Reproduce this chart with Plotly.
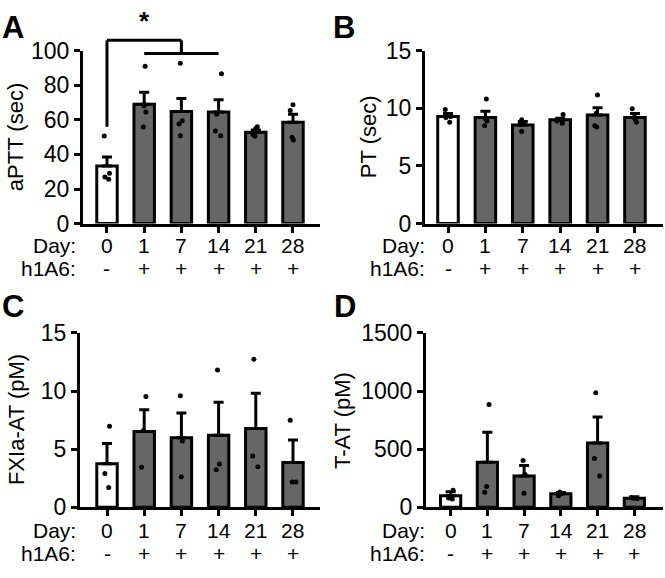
import plotly.graph_objects as go

# ---------------- data ----------------
days = ["0", "1", "7", "14", "21", "28"]
h1a6 = ["-", "+", "+", "+", "+", "+"]

aptt_mean = [33.3, 69.0, 64.8, 64.6, 52.9, 58.6]
aptt_sem = [5.2, 7.0, 7.6, 7.0, 1.2, 4.6]
aptt_pts = [[50.6, 29.1, 26.9, 25.6],
            [91.0, 68.0, 64.5, 55.8],
            [92.8, 59.5, 57.6, 50.8],
            [86.7, 63.2, 53.6, 50.8],
            [56.0, 55.0, 53.5, 51.5, 50.5],
            [68.7, 65.4, 49.9, 48.4]]

pt_mean = [9.3, 9.2, 8.56, 9.0, 9.42, 9.2]
pt_sem = [0.25, 0.55, 0.3, 0.14, 0.63, 0.35]
pt_pts = [[9.9, 9.3, 9.2, 8.8],
          [10.8, 9.1, 8.9, 8.5],
          [9.0, 8.7, 8.6, 7.98],
          [9.47, 9.0, 8.9, 8.7],
          [11.16, 9.6, 8.48, 8.37],
          [9.97, 9.2, 9.0, 8.8]]

fxia_mean = [3.75, 6.52, 5.97, 6.19, 6.77, 3.84]
fxia_sem = [1.73, 1.86, 2.13, 2.85, 3.03, 1.94]
fxia_pts = [[6.96, 2.9, 1.7],
            [9.53, 6.6, 3.45],
            [9.59, 5.7, 2.63],
            [11.8, 3.73, 3.23],
            [12.74, 4.41, 3.48],
            [7.48, 2.16, 2.16]]

tat_mean = [98.5, 386, 268, 115, 553, 77]
tat_sem = [35, 260, 91, 11, 224, 13]
tat_pts = [[145, 80, 71],
           [884, 178, 129],
           [402, 282, 120],
           [131, 115, 98],
           [985, 419, 268],
           [82, 77, 72]]

panels = [
    dict(letter="A", title="aPTT (sec)", mean=aptt_mean, sem=aptt_sem, pts=aptt_pts,
         ymax=100, dtick=20),
    dict(letter="B", title="PT (sec)", mean=pt_mean, sem=pt_sem, pts=pt_pts,
         ymax=15, dtick=5),
    dict(letter="C", title="FXIa-AT (pM)", mean=fxia_mean, sem=fxia_sem, pts=fxia_pts,
         ymax=15, dtick=5),
    dict(letter="D", title="T-AT (pM)", mean=tat_mean, sem=tat_sem, pts=tat_pts,
         ymax=1500, dtick=500),
]

# ---------------- layout geometry (pixels) ----------------
W, H = 665, 578
FONT = "Liberation Sans, Arial, sans-serif"
FS = 22      # axis titles
RFS = 21     # Day / h1A6 rows
TFS = 23     # tick labels
GRAY = "#666666"

# (x_left, x_right, y_top, y_bottom, xrange, title_x, letter_x, letter_y, daylabel_right, day_y, h_y)
geom = [
    (83, 320, 39.5, 220.5, [-0.645, 5.726], 15, 13, 15, 78, 243, 268),
    (425, 663, 39.5, 220.5, [-0.615, 5.75], 368, 344, 15, 427, 243, 268),
    (80, 320, 335, 517.5, [-0.726, 5.726], 16, 13, 307, 78, 541.5, 566),
    (426, 663, 335, 517.5, [-0.67, 5.78], 342, 345, 307, 427, 541.5, 566),
]

def px(x):
    return x / W

def py(y):
    return 1 - y / H

fig = go.Figure()
annotations = []
shapes = []

for i, (p, g) in enumerate(zip(panels, geom)):
    xl, xr, yt, yb, xrng, tx, lx, ly, dr, dy, hy = g
    n = "" if i == 0 else str(i + 1)
    xa, ya = "x" + n, "y" + n
    pos = list(range(len(days)))
    colors = ["white" if s == "-" else GRAY for s in h1a6]

    fig.add_trace(go.Bar(
        x=pos, y=p["mean"], xaxis=xa, yaxis=ya, width=0.55,
        marker=dict(color=colors, line=dict(color="black", width=3)),
        error_y=dict(type="data", symmetric=False, array=p["sem"],
                     arrayminus=[0] * len(days), color="black",
                     thickness=3, width=5),
        showlegend=False, hoverinfo="skip"))

    bx, by = [], []
    for k, vals in enumerate(p["pts"]):
        bx += [k] * len(vals)
        by += vals
    fig.add_trace(go.Box(
        x=bx, y=by, xaxis=xa, yaxis=ya, boxpoints="all", jitter=0.35,
        pointpos=0, width=0.5, fillcolor="rgba(0,0,0,0)",
        line=dict(width=0, color="rgba(0,0,0,0)"),
        marker=dict(color="black", size=5),
        showlegend=False, hoverinfo="skip"))

    axis_common = dict(showline=True, linecolor="black", linewidth=3,
                       ticks="outside", tickcolor="black", tickwidth=3,
                       ticklen=6, showgrid=False, zeroline=False,
                       tickfont=dict(family=FONT, size=TFS, color="black"))
    fig.layout[("xaxis" + n)] = dict(
        domain=[px(xl), px(xr)], anchor=ya, range=xrng,
        tickmode="array", tickvals=pos, showticklabels=False, **axis_common)
    fig.layout[("yaxis" + n)] = dict(
        domain=[py(yb), py(yt)], anchor=xa, range=[0, p["ymax"]],
        tickmode="linear", tick0=0, dtick=p["dtick"], **axis_common)

    # y title
    annotations.append(dict(text=p["title"], textangle=-90, xref="paper", yref="paper",
                            x=px(tx), y=py((yt + yb) / 2), showarrow=False,
                            xanchor="center", yanchor="middle",
                            font=dict(family=FONT, size=FS, color="black")))
    # panel letter
    annotations.append(dict(text="<b>%s</b>" % p["letter"], xref="paper", yref="paper",
                            x=px(lx), y=py(ly), showarrow=False,
                            xanchor="center", yanchor="middle",
                            font=dict(family=FONT, size=31, color="black")))
    # row labels
    annotations.append(dict(text="Day:", xref="paper", yref="paper", x=px(dr), y=py(dy),
                            showarrow=False, xanchor="right", yanchor="middle",
                            font=dict(family=FONT, size=RFS, color="black")))
    annotations.append(dict(text="h1A6:", xref="paper", yref="paper", x=px(dr), y=py(hy),
                            showarrow=False, xanchor="right", yanchor="middle",
                            font=dict(family=FONT, size=RFS, color="black")))
    for k in pos:
        annotations.append(dict(text=days[k], xref=xa, yref="paper", x=k, y=py(dy),
                                showarrow=False, xanchor="center", yanchor="middle",
                                font=dict(family=FONT, size=RFS, color="black")))
        annotations.append(dict(text=h1a6[k], xref=xa, yref="paper", x=k, y=py(hy),
                                showarrow=False, xanchor="center", yanchor="middle",
                                font=dict(family=FONT, size=RFS, color="black")))

# significance bracket in panel A (values in aPTT units)
br_top, br_low, br_left_end, star_y = 106.0, 98.4, 56.0, 117.0
ymaxA = panels[0]["ymax"]
line = dict(color="black", width=3)
for (x0, y0, x1, y1) in [(0, br_left_end, 0, br_top), (0, br_top, 2, br_top),
                         (2, br_top, 2, br_low), (1, br_low, 3, br_low)]:
    shapes.append(dict(type="line", xref="x", yref="y domain", x0=x0, x1=x1,
                       y0=y0 / ymaxA, y1=y1 / ymaxA, line=line))
annotations.append(dict(text="<b>*</b>", xref="x", yref="y domain", x=1, y=star_y / ymaxA,
                        showarrow=False, xanchor="center", yanchor="middle",
                        font=dict(family=FONT, size=26, color="black")))

fig.update_layout(width=W, height=H, margin=dict(l=0, r=0, t=0, b=0),
                  paper_bgcolor="white", plot_bgcolor="white",
                  annotations=annotations, shapes=shapes, bargap=0.4,
                  font=dict(family=FONT, size=FS, color="black"))

fig.write_html("out.html", config={"displayModeBar": False},
               post_script="document.body.style.margin='0px';document.body.style.overflow='hidden';")
